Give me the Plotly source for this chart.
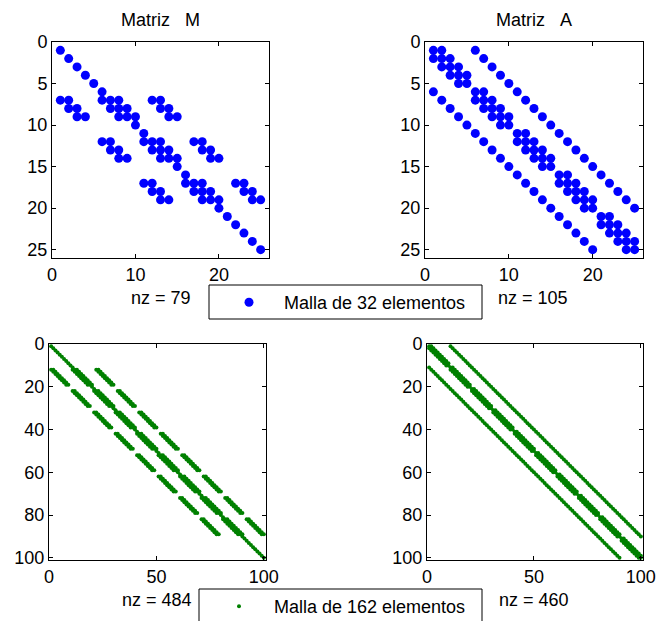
import plotly.graph_objects as go

W, H = 659, 621

# ---------------- DATA ----------------
# Malla de 32 elementos -> matrices 25x25: columnas no nulas de cada fila
M32_rows = {
    1: [1], 2: [2], 3: [3], 4: [4], 5: [5], 6: [6],
    7: [1, 2, 6, 7, 8, 12, 13],
    8: [2, 3, 7, 8, 9, 13, 14],
    9: [3, 4, 8, 9, 10, 14, 15],
    10: [10], 11: [11],
    12: [6, 7, 11, 12, 13, 17, 18],
    13: [7, 8, 12, 13, 14, 18, 19],
    14: [8, 9, 13, 14, 15, 19, 20],
    15: [15], 16: [16],
    17: [11, 12, 16, 17, 18, 22, 23],
    18: [12, 13, 17, 18, 19, 23, 24],
    19: [13, 14, 18, 19, 20, 24, 25],
    20: [20], 21: [21], 22: [22], 23: [23], 24: [24], 25: [25],
}

A32_rows = {
    1: [1, 2, 6], 2: [1, 2, 3, 7], 3: [2, 3, 4, 8], 4: [3, 4, 5, 9], 5: [4, 5, 10],
    6: [1, 6, 7, 11], 7: [2, 6, 7, 8, 12], 8: [3, 7, 8, 9, 13], 9: [4, 8, 9, 10, 14], 10: [5, 9, 10, 15],
    11: [6, 11, 12, 16], 12: [7, 11, 12, 13, 17], 13: [8, 12, 13, 14, 18], 14: [9, 13, 14, 15, 19], 15: [10, 14, 15, 20],
    16: [11, 16, 17, 21], 17: [12, 16, 17, 18, 22], 18: [13, 17, 18, 19, 23], 19: [14, 18, 19, 20, 24], 20: [15, 19, 20, 25],
    21: [16, 21, 22], 22: [17, 21, 22, 23], 23: [18, 22, 23, 24], 24: [19, 23, 24, 25], 25: [20, 24, 25],
}

# Malla de 162 elementos -> matrices 100x100 (bandas)
N162 = 100
M162_band_rows = [(12, 19), (22, 29), (32, 39), (42, 49), (52, 59), (62, 69), (72, 79), (82, 89)]
M162_band_offsets = [-11, -10, -1, 0, 1, 10, 11]
A162_block = 10
A162_offsets = [-10, -1, 0, 1, 10]

titles = ["Matriz\u00a0\u00a0\u00a0M", "Matriz\u00a0\u00a0\u00a0A"]
nz_labels = ["nz = 79", "nz = 105", "nz = 484", "nz = 460"]
legend_labels = ["Malla de 32 elementos", "Malla de 162 elementos"]

top_xticks = [0, 10, 20]
top_yticks = [0, 5, 10, 15, 20, 25]
bot_xticks = [0, 50, 100]
bot_yticks = [0, 20, 40, 60, 80, 100]

# ---------------- build sparsity patterns ----------------
def from_rows(rows):
    xs, ys = [], []
    for r, cols in rows.items():
        for c in cols:
            xs.append(c)
            ys.append(r)
    return xs, ys

def m162_pattern():
    band = set()
    for a, b in M162_band_rows:
        band.update(range(a, b + 1))
    xs, ys = [], []
    for i in range(1, N162 + 1):
        offs = M162_band_offsets if i in band else [0]
        for o in offs:
            xs.append(i + o)
            ys.append(i)
    return xs, ys

def a162_pattern():
    xs, ys = [], []
    for i in range(1, N162 + 1):
        p = (i - 1) % A162_block
        for o in A162_offsets:
            j = i + o
            if j < 1 or j > N162:
                continue
            if o == -1 and p == 0:
                continue
            if o == 1 and p == A162_block - 1:
                continue
            xs.append(j)
            ys.append(i)
    return xs, ys

mx, my = from_rows(M32_rows)
ax_, ay_ = from_rows(A32_rows)
m2x, m2y = m162_pattern()
a2x, a2y = a162_pattern()

BLUE = "#0000ff"
GREEN = "#008000"
NBSP = "\u00a0"

fig = go.Figure()
fig.add_trace(go.Scatter(x=mx, y=my, mode="markers", name=NBSP * 3 + legend_labels[0],
                         marker=dict(color=BLUE, size=9), xaxis="x", yaxis="y",
                         showlegend=True, legend="legend"))
fig.add_trace(go.Scatter(x=ax_, y=ay_, mode="markers", name="A32",
                         marker=dict(color=BLUE, size=9), xaxis="x2", yaxis="y2", showlegend=False))
fig.add_trace(go.Scatter(x=m2x, y=m2y, mode="markers", name=NBSP * 3 + legend_labels[1],
                         marker=dict(color=GREEN, size=4), xaxis="x3", yaxis="y3",
                         showlegend=True, legend="legend2"))
fig.add_trace(go.Scatter(x=a2x, y=a2y, mode="markers", name="A162",
                         marker=dict(color=GREEN, size=4), xaxis="x4", yaxis="y4", showlegend=False))

FONT = "Liberation Sans, Arial, sans-serif"

def px(x):
    return x / W

def py(y):
    return 1 - y / H

boxes = {
    1: (52, 269, 42, 258),
    2: (425, 643, 42, 258),
    3: (49, 266, 344, 560),
    4: (427, 643, 344, 560),
}

axcommon = dict(showline=True, linecolor="black", linewidth=1, mirror="allticks",
                ticks="inside", ticklen=4, tickcolor="black", showgrid=False,
                zeroline=False, automargin=False,
                tickfont=dict(family=FONT, size=18, color="black"))

lay = {}
for k, (x0, x1, y0, y1) in boxes.items():
    sx = "" if k == 1 else str(k)
    top = k <= 2
    lay["xaxis" + sx] = dict(domain=[px(x0), px(x1)], anchor="y" + sx,
                             range=[0, 26] if top else [0, 101],
                             tickvals=top_xticks if top else bot_xticks, **axcommon)
    lay["yaxis" + sx] = dict(domain=[py(y1), py(y0)], anchor="x" + sx,
                             range=[26, 0] if top else [101, 0],
                             tickvals=top_yticks if top else bot_yticks, **axcommon)

fig.update_layout(**lay)

annos = []
tfont = dict(family=FONT, size=18, color="black")
for txt, cx, cy in [(titles[0], 160.5, 20), (titles[1], 534, 20),
                    (nz_labels[0], 160.5, 297.5), (nz_labels[1], 533, 297.5),
                    (nz_labels[2], 157, 600), (nz_labels[3], 534, 600)]:
    annos.append(dict(text=txt, x=px(cx), y=py(cy), xref="paper", yref="paper",
                      xanchor="center", yanchor="middle", showarrow=False, font=tfont))

shapes = [
    dict(type="rect", xref="paper", yref="paper", x0=px(209), x1=px(482), y0=py(319), y1=py(285),
         line=dict(color="black", width=1)),
    dict(type="rect", xref="paper", yref="paper", x0=px(199), x1=px(482), y0=py(625), y1=py(589),
         line=dict(color="black", width=1)),
]

fig.update_layout(
    width=W, height=H, margin=dict(l=0, r=0, t=0, b=0, autoexpand=False),
    paper_bgcolor="white", plot_bgcolor="white",
    annotations=annos, shapes=shapes,
    legend=dict(x=px(229), y=py(302.5), xanchor="left", yanchor="middle",
                bgcolor="rgba(0,0,0,0)", borderwidth=0, font=tfont),
    legend2=dict(x=px(219), y=py(606.5), xanchor="left", yanchor="middle",
                 bgcolor="rgba(0,0,0,0)", borderwidth=0, font=tfont),
    font=dict(family=FONT, color="black"),
)

fig.write_html("out.html")
